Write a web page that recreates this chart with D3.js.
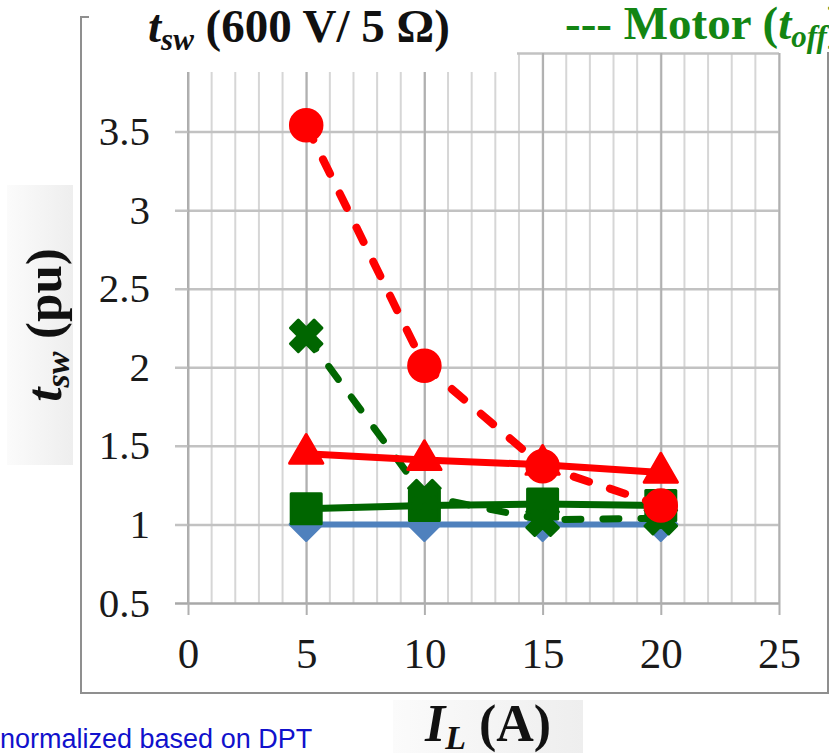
<!DOCTYPE html>
<html>
<head>
<meta charset="utf-8">
<script src="https://cdn.jsdelivr.net/npm/d3@7"></script>
<style>
  body { margin: 0; background: #fff; }
  svg { display: block; }
</style>
</head>
<body>
<div id="chart"></div>
<script>
// load current I_L (A)
let currents = [5, 10, 15, 20];

// switching times, normalized (pu)
let blueSolid   = [1.00, 1.00, 1.00, 1.00];
let greenSolid  = [1.10, 1.12, 1.13, 1.12];
let greenDashed = [2.20, 1.18, 1.03, 1.04];
let redSolid    = [1.45, 1.41, 1.38, 1.33];
let redDashed   = [3.54, 2.01, 1.37, 1.12];

let xTicks = [0, 5, 10, 15, 20, 25];
let xGrid = d3.range(0, 26, 1);
let yTicks = [0.5, 1, 1.5, 2, 2.5, 3, 3.5, 4];
let yTickLabels = ['0.5', '1', '1.5', '2', '2.5', '3', '3.5', ''];

let dim = {
    'width': 829,
    'height': 753
};

let plot = { left: 188, right: 779, top: 53, bottom: 603 };

let svg = d3.select('#chart').append('svg')
    .attr('width', dim.width)
    .attr('height', dim.height);

let defs = svg.append('defs');
let grad = defs.append('linearGradient').attr('id', 'labelBox');
grad.append('stop').attr('offset', '0%').attr('stop-color', '#fbfbfb');
grad.append('stop').attr('offset', '100%').attr('stop-color', '#eeeeee');

let scaleX = d3.scaleLinear().domain([0, 25]).range([plot.left, plot.right]);
let scaleY = d3.scaleLinear().domain([0.5, 4]).range([plot.bottom, plot.top]);

let serif = 'Liberation Serif, Times New Roman, serif';

// chart frame
svg.append('rect')
    .attr('x', 81).attr('y', 17)
    .attr('width', 747).attr('height', 676)
    .attr('fill', 'none')
    .attr('stroke', '#8f8f8f')
    .attr('stroke-width', 2);

// vertical minor grid
svg.append('g')
    .selectAll('line')
    .data(xGrid)
    .join('line')
    .attr('x1', d => scaleX(d)).attr('x2', d => scaleX(d))
    .attr('y1', plot.top).attr('y2', plot.bottom)
    .attr('stroke', d => d === 0 ? '#a8a8a8' : '#d6d6d6')
    .attr('stroke-width', 2);

// y axis with horizontal grid
let axisY = d3.axisLeft(scaleY)
    .tickValues(yTicks)
    .tickFormat((d, i) => yTickLabels[i])
    .tickSize(-(plot.right - plot.left + 13))
    .tickPadding(25);

let gy = svg.append('g')
    .attr('transform', `translate(${plot.left - 13}, 0)`)
    .call(axisY);
gy.select('.domain').remove();
gy.selectAll('.tick line')
    .attr('stroke', d => d === 0.5 ? '#a8a8a8' : '#c2c2c2')
    .attr('stroke-width', 2.5);
gy.selectAll('.tick text')
    .attr('font-family', serif)
    .attr('font-size', 41)
    .attr('fill', '#1a1a1a');

// x axis, major ticks
let axisX = d3.axisBottom(scaleX)
    .tickValues(xTicks)
    .tickSize(plot.bottom - plot.top + 12)
    .tickPadding(22);

let gx = svg.append('g')
    .attr('transform', `translate(0, ${plot.top})`)
    .call(axisX);
gx.select('.domain').remove();
gx.selectAll('.tick line')
    .attr('stroke', '#b0b0b0')
    .attr('stroke-width', 2);
gx.selectAll('.tick text')
    .attr('font-family', serif)
    .attr('font-size', 43)
    .attr('fill', '#1a1a1a');

// series
let series = [
    { values: blueSolid,   color: '#4f81bd', width: 6, dash: null,    symbol: 'diamond' },
    { values: greenSolid,  color: '#006600', width: 7, dash: null,    symbol: 'square' },
    { values: greenDashed, color: '#006600', width: 7, dash: '16,22', symbol: 'star' },
    { values: redSolid,    color: '#ff0000', width: 7, dash: null,    symbol: 'triangle' },
    { values: redDashed,   color: '#ff0000', width: 8, dash: '16,22', symbol: 'circle' }
];

let line = d3.line()
    .x((d, i) => scaleX(currents[i]))
    .y(d => scaleY(d));

let symbols = {
    diamond:  { type: d3.symbolSquare,   size: 512, rotate: 45 },
    square:   { type: d3.symbolSquare,   size: 900, rotate: 0 },
    star:     { type: d3.symbolCross,    size: 620, rotate: 45 },
    triangle: { type: d3.symbolTriangle, size: 480, rotate: 0 },
    circle:   { type: d3.symbolCircle,   size: 780, rotate: 0 }
};

series.forEach(s => {
    let g = svg.append('g');
    g.append('path')
        .attr('d', line(s.values))
        .attr('fill', 'none')
        .attr('stroke', s.color)
        .attr('stroke-width', s.width)
        .attr('stroke-linecap', s.dash ? 'round' : 'butt')
        .attr('stroke-linejoin', 'round')
        .attr('stroke-dasharray', s.dash);

    let sym = symbols[s.symbol];
    g.selectAll('path.marker')
        .data(s.values)
        .join('path')
        .attr('class', 'marker')
        .attr('d', d3.symbol().type(sym.type).size(sym.size))
        .attr('transform', (d, i) => `translate(${scaleX(currents[i])}, ${scaleY(d)}) rotate(${sym.rotate})`)
        .attr('fill', s.color)
        .attr('stroke', s.color)
        .attr('stroke-width', 3)
        .attr('stroke-linejoin', 'round');
});

// title box and legend box sit over the frame top
svg.append('rect').attr('x', 89).attr('y', 0).attr('width', 428).attr('height', 72).attr('fill', '#fff');
svg.append('rect').attr('x', 517).attr('y', 0).attr('width', 312).attr('height', 52).attr('fill', '#fff');

let title = svg.append('text')
    .attr('x', 148).attr('y', 42)
    .attr('font-family', serif)
    .attr('font-weight', 'bold')
    .attr('font-size', 47)
    .attr('fill', '#111');
title.append('tspan').attr('font-style', 'italic').text('t');
title.append('tspan').attr('font-style', 'italic').attr('font-size', 31).attr('dy', 8).text('sw');
title.append('tspan').attr('dy', -8).text(' (600 V/ 5 Ω)');

// legend text runs off the right edge of the frame
let legend = svg.append('text')
    .attr('x', 565).attr('y', 39)
    .attr('font-family', serif)
    .attr('font-weight', 'bold')
    .attr('font-size', 47)
    .attr('fill', '#138513');
legend.append('tspan').text('--- Motor (');
legend.append('tspan').attr('font-style', 'italic').text('t');
legend.append('tspan').attr('font-style', 'italic').attr('font-size', 31).attr('dy', 8).text('off');
legend.append('tspan').attr('dy', -8).text(')');

// y axis title
svg.append('rect')
    .attr('x', 7).attr('y', 185)
    .attr('width', 66).attr('height', 280)
    .attr('fill', 'url(#labelBox)');

let yTitle = svg.append('text')
    .attr('transform', 'translate(61, 325) rotate(-90)')
    .attr('text-anchor', 'middle')
    .attr('font-family', serif)
    .attr('font-weight', 'bold')
    .attr('font-size', 51)
    .attr('fill', '#111');
yTitle.append('tspan').attr('font-style', 'italic').text('t');
yTitle.append('tspan').attr('font-style', 'italic').attr('font-size', 34).attr('dy', 8).text('sw');
yTitle.append('tspan').attr('dy', -8).text(' (pu)');

// x axis title
svg.append('rect')
    .attr('x', 393).attr('y', 700)
    .attr('width', 190).attr('height', 53)
    .attr('fill', 'url(#labelBox)');

let xTitle = svg.append('text')
    .attr('x', 488).attr('y', 741)
    .attr('text-anchor', 'middle')
    .attr('font-family', serif)
    .attr('font-weight', 'bold')
    .attr('font-size', 52)
    .attr('fill', '#111');
xTitle.append('tspan').attr('font-style', 'italic').text('I');
xTitle.append('tspan').attr('font-style', 'italic').attr('font-size', 34).attr('dy', 8).text('L');
xTitle.append('tspan').attr('dy', -8).text(' (A)');

// footnote
svg.append('text')
    .attr('x', 0).attr('y', 748)
    .attr('font-family', 'Liberation Sans, Arial, sans-serif')
    .attr('font-size', 27)
    .attr('fill', '#1111cc')
    .text('normalized based on DPT');
</script>
</body>
</html>
